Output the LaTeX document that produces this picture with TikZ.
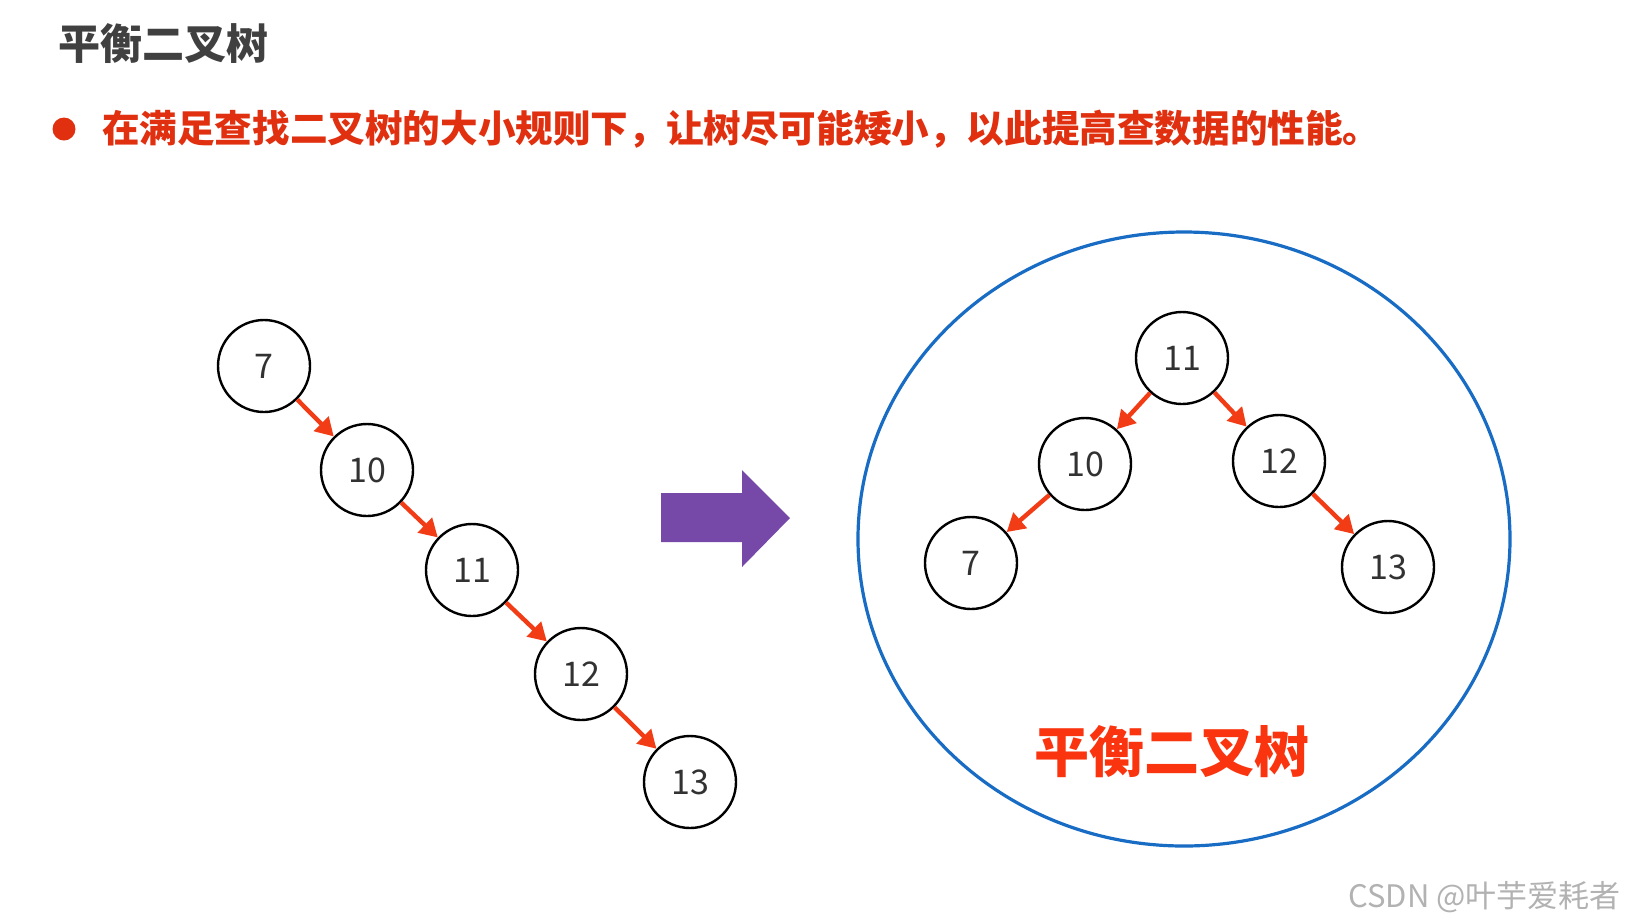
\documentclass[tikz,border=0pt]{standalone}
\usepackage{fontspec}
\setmainfont{Noto Sans CJK SC}
\usetikzlibrary{arrows.meta}
\definecolor{bulletred}{RGB}{224,48,16}
\definecolor{edgered}{RGB}{242,60,22}
\definecolor{labelred}{RGB}{250,52,14}
\definecolor{ringblue}{RGB}{24,108,196}
\definecolor{arrowpurple}{RGB}{118,72,168}
\definecolor{titlegray}{RGB}{64,64,64}
\definecolor{digitgray}{RGB}{50,50,50}
\tikzset{
  vertex/.style={circle,draw=black,line width=1.2pt,minimum size=46pt,inner sep=0pt,
    text=digitgray,font=\fontsize{17}{20}\selectfont},
  edge/.style={draw=edgered,line width=2.2pt,-{Triangle[length=9pt,width=10pt]}}
}
\begin{document}
\begin{tikzpicture}[x=0.5pt,y=-0.5pt]
      \useasboundingbox[fill=white] (0,0) rectangle (1630,923);
      % heading and note
      \node[anchor=west,text=titlegray,font=\fontsize{21}{25}\selectfont\bfseries] (title) at (51,44) {平衡二叉树};
      \fill[bulletred] (64,129) circle (11.5);
      \node[anchor=west,text=bulletred,font=\fontsize{18.8}{22}\selectfont\bfseries] (note) at (95,129)
        {在满足查找二叉树的大小规则下，让树尽可能矮小，以此提高查数据的性能。};
      % chain before balancing
      \draw
        (264,366) node[vertex] (l7){7}
        (367,470) node[vertex] (l10){10}
        (472,570) node[vertex] (l11){11}
        (581,674) node[vertex] (l12){12}
        (690,782) node[vertex] (l13){13};
      \begin{scope}[edge]
        \draw (l7) to (l10);
        \draw (l10) to (l11);
        \draw (l11) to (l12);
        \draw (l12) to (l13);
      \end{scope}
      % big arrow
      \fill[arrowpurple] (661,493) -- (742,493) -- (742,470) -- (790,518)
        -- (742,567) -- (742,542) -- (661,542) -- cycle;
      % balanced tree
      \draw[ringblue,line width=1.6pt] (1184,539) ellipse (326 and 307);
      \draw
        (1182,358) node[vertex] (r11){11}
        (1085,464) node[vertex] (r10){10}
        (1279,461) node[vertex] (r12){12}
        (971,563) node[vertex] (r7){7}
        (1388,567) node[vertex] (r13){13};
      \begin{scope}[edge]
        \draw (r11) to (r10);
        \draw (r11) to (r12);
        \draw (r10) to (r7);
        \draw (r12) to (r13);
      \end{scope}
      \node[text=labelred,font=\fontsize{27.5}{32}\selectfont\bfseries] (caption) at (1172,752) {平衡二叉树};
      % watermark
      \node[anchor=east,text=black!30,font=\fontsize{15.5}{18}\selectfont] (mark) at (1628,897) {CSDN @叶芋爱耗者};
    \end{tikzpicture}
\end{document}
